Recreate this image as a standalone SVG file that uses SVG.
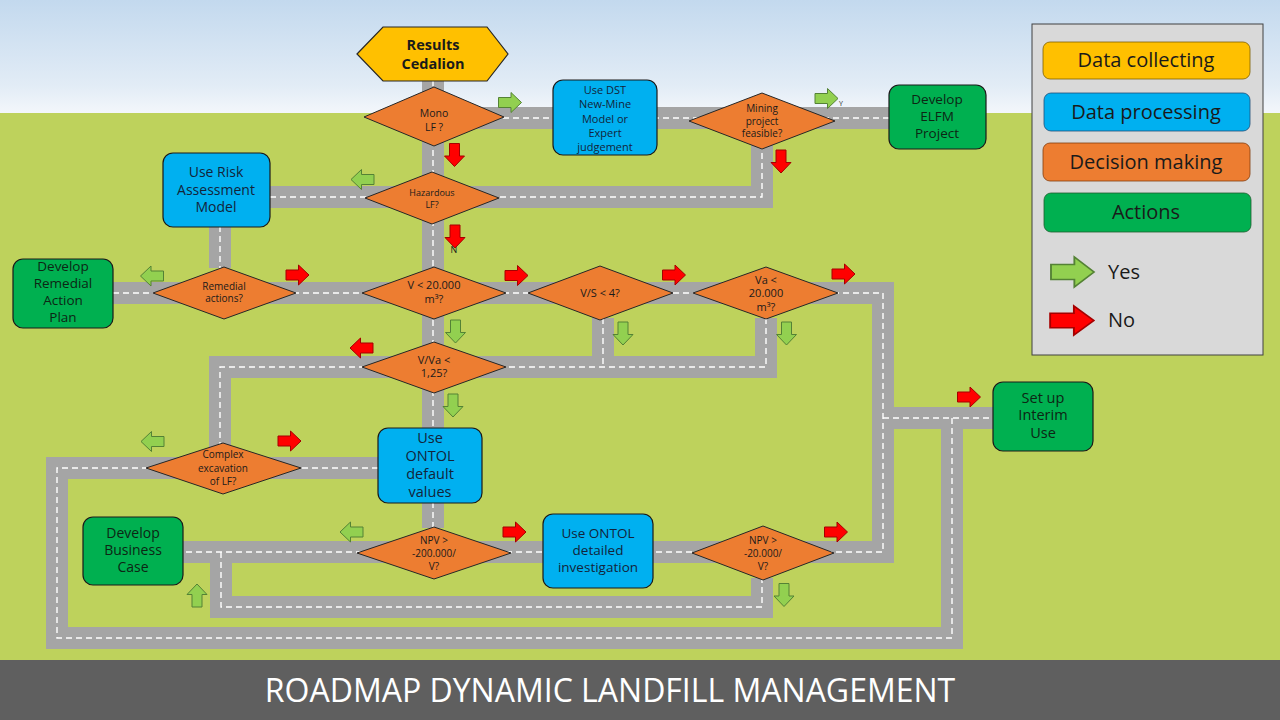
<svg xmlns="http://www.w3.org/2000/svg" xmlns:xlink="http://www.w3.org/1999/xlink" width="1280" height="720" viewBox="0 0 1280 720">
<defs>
<linearGradient id="sky" x1="0" y1="0" x2="0" y2="1">
<stop offset="0" stop-color="#c3d9ee"/>
<stop offset="0.75" stop-color="#e2ecf6"/>
<stop offset="1" stop-color="#f4f7fb"/>
</linearGradient>
<path id="arr" d="M-11.5,-5 H1 V-10 L11.5,0 L1,10 V5 H-11.5 Z"/>
</defs>
<style>
.road{fill:none;stroke:#a5a5a5;stroke-width:22;stroke-linejoin:miter;stroke-linecap:butt}
.lane{fill:none;stroke:#ffffff;stroke-width:1.4;stroke-dasharray:6 4}
.dec{fill:#ed7d31;stroke:#262626;stroke-width:1}
.proc{fill:#00b0f0;stroke:#1a1a1a;stroke-width:1.2}
.act{fill:#00b050;stroke:#1a1a1a;stroke-width:1.2}
.start{fill:#ffc000;stroke:#262626;stroke-width:1.2}
.t{font-family:"Open Sans","Liberation Sans",sans-serif;text-anchor:middle;fill:#1a1a1a}
.tb{fill:#13243a}
.tg{fill:#0d2614}
.yes{fill:#92d050;stroke:#548235;stroke-width:1}
.no{fill:#ff0000;stroke:#a50000;stroke-width:1}
</style>
<rect x="0" y="0" width="1280" height="114" fill="url(#sky)"/>
<rect x="0" y="113" width="1280" height="548" fill="#bed25c"/>
<rect x="0" y="660" width="1280" height="60" fill="#5f5f5f"/>
<text x="610" y="702" font-family="'Open Sans','Liberation Sans',sans-serif" font-size="32" fill="#ffffff" text-anchor="middle">ROADMAP DYNAMIC LANDFILL MANAGEMENT</text>

<g id="connectors">
<g id="roads">
<path class="road" d="M433,80 V428"/>
<path class="road" d="M433,502 V528"/>
<path class="road" d="M433,118 H889"/>
<path class="road" d="M270,197 H762 V140"/>
<path class="road" d="M220,226 V268"/>
<path class="road" d="M113,293 H883 V552 H183"/>
<path class="road" d="M883,418 H993"/>
<path class="road" d="M952,418 V638 H57 V468 H378"/>
<path class="road" d="M220,468 V367 H766 V318"/>
<path class="road" d="M603,318 V367"/>
<path class="road" d="M221,552 V607 H762 V578"/>
</g>
<g id="lanes">
<path class="lane" d="M433,80 V428"/>
<path class="lane" d="M433,502 V528"/>
<path class="lane" d="M433,118 H889"/>
<path class="lane" d="M270,197 H762 V140"/>
<path class="lane" d="M220,226 V268"/>
<path class="lane" d="M113,293 H883 V552 H183"/>
<path class="lane" d="M883,418 H993"/>
<path class="lane" d="M952,418 V638 H57 V468 H378"/>
<path class="lane" d="M220,468 V367 H766 V318"/>
<path class="lane" d="M603,318 V367"/>
<path class="lane" d="M221,552 V607 H762 V578"/>
</g>
</g>

<g id="n-results">
<polygon class="start" points="357,54 383,27 487,27 508,54 487,81 383,81"/>
<text class="t" x="433" y="50" font-size="14.5" font-weight="bold">Results</text>
<text class="t" x="433" y="69" font-size="14.5" font-weight="bold">Cedalion</text>
</g>
<g id="n-mono">
<polygon class="dec" points="364,117 434,87 504,117 434,146"/>
<text class="t" x="434" y="117" font-size="10.5">Mono</text>
<text class="t" x="434" y="131" font-size="10.5">LF ?</text>
</g>
<g id="n-dst">
<rect class="proc" x="553" y="80" width="104" height="75" rx="10"/>
<text class="t tb" x="605" y="94" font-size="11">Use DST</text>
<text class="t tb" x="605" y="108" font-size="11">New-Mine</text>
<text class="t tb" x="605" y="122.5" font-size="11">Model or</text>
<text class="t tb" x="605" y="137" font-size="11">Expert</text>
<text class="t tb" x="605" y="151" font-size="11">judgement</text>
</g>
<g id="n-mining">
<polygon class="dec" points="689,121 762,93 835,121 762,149"/>
<text class="t" x="762" y="112" font-size="10">Mining</text>
<text class="t" x="762" y="124.5" font-size="10">project</text>
<text class="t" x="762" y="137" font-size="10">feasible?</text>
</g>
<g id="n-elfm">
<rect class="act" x="889" y="85" width="97" height="64" rx="10"/>
<text class="t tg" x="937" y="104" font-size="13.5">Develop</text>
<text class="t tg" x="937" y="121" font-size="13.5">ELFM</text>
<text class="t tg" x="937" y="138" font-size="13.5">Project</text>
</g>
<g id="n-hazard">
<polygon class="dec" points="365,198 432,172 499,198 432,224"/>
<text class="t" x="432" y="196" font-size="9">Hazardous</text>
<text class="t" x="432" y="207.5" font-size="9">LF?</text>
</g>
<g id="n-risk">
<rect class="proc" x="163" y="153" width="107" height="74" rx="10"/>
<text class="t tb" x="216" y="177" font-size="14">Use Risk</text>
<text class="t tb" x="216" y="194.5" font-size="14">Assessment</text>
<text class="t tb" x="216" y="212" font-size="14">Model</text>
</g>
<g id="n-remplan">
<rect class="act" x="13" y="259" width="100" height="69" rx="10"/>
<text class="t tg" x="63" y="271" font-size="13.5">Develop</text>
<text class="t tg" x="63" y="288" font-size="13.5">Remedial</text>
<text class="t tg" x="63" y="305" font-size="13.5">Action</text>
<text class="t tg" x="63" y="322" font-size="13.5">Plan</text>
</g>
<g id="n-remedial">
<polygon class="dec" points="153,293 224,267 296,293 224,319"/>
<text class="t" x="224" y="289.5" font-size="10">Remedial</text>
<text class="t" x="224" y="302" font-size="10">actions?</text>
</g>
<g id="n-v20">
<polygon class="dec" points="362,293 434,267 506,293 434,319"/>
<text class="t" x="434" y="289" font-size="11">V &lt; 20.000</text>
<text class="t" x="434" y="302.5" font-size="11">m³?</text>
</g>
<g id="n-vs">
<polygon class="dec" points="528,293 600,266 673,293 600,320"/>
<text class="t" x="600" y="296.5" font-size="11">V/S &lt; 4?</text>
</g>
<g id="n-va">
<polygon class="dec" points="693,293 766,267 838,293 766,319"/>
<text class="t" x="766" y="283.5" font-size="11">Va &lt;</text>
<text class="t" x="766" y="297" font-size="11">20.000</text>
<text class="t" x="766" y="310.5" font-size="11">m³?</text>
</g>
<g id="n-vva">
<polygon class="dec" points="362,367 434,342 506,367 434,393"/>
<text class="t" x="434" y="363.5" font-size="11">V/Va &lt;</text>
<text class="t" x="434" y="377" font-size="11">1,25?</text>
</g>
<g id="n-ontoldef">
<rect class="proc" x="378" y="428" width="104" height="75" rx="10"/>
<text class="t tb" x="430" y="442.5" font-size="14.5">Use</text>
<text class="t tb" x="430" y="460.5" font-size="14.5">ONTOL</text>
<text class="t tb" x="430" y="478.5" font-size="14.5">default</text>
<text class="t tb" x="430" y="496.5" font-size="14.5">values</text>
</g>
<g id="n-complex">
<polygon class="dec" points="146,468 223,443 301,468 223,494"/>
<text class="t" x="223" y="458" font-size="10">Complex</text>
<text class="t" x="223" y="471.5" font-size="10">excavation</text>
<text class="t" x="223" y="484.5" font-size="10">of LF?</text>
</g>
<g id="n-business">
<rect class="act" x="83" y="517" width="100" height="68" rx="10"/>
<text class="t tg" x="133" y="537.5" font-size="14">Develop</text>
<text class="t tg" x="133" y="554.5" font-size="14">Business</text>
<text class="t tg" x="133" y="571.5" font-size="14">Case</text>
</g>
<g id="n-npv1">
<polygon class="dec" points="357,553 434,527 511,553 434,579"/>
<text class="t" x="434" y="543.5" font-size="10">NPV &gt;</text>
<text class="t" x="434" y="556.5" font-size="10">-200.000/</text>
<text class="t" x="434" y="569.5" font-size="10">V?</text>
</g>
<g id="n-ontoldet">
<rect class="proc" x="543" y="514" width="110" height="74" rx="10"/>
<text class="t tb" x="598" y="538" font-size="13.5">Use ONTOL</text>
<text class="t tb" x="598" y="555" font-size="13.5">detailed</text>
<text class="t tb" x="598" y="572" font-size="13.5">investigation</text>
</g>
<g id="n-npv2">
<polygon class="dec" points="692,553 763,526 834,553 763,580"/>
<text class="t" x="763" y="543.5" font-size="10">NPV &gt;</text>
<text class="t" x="763" y="556.5" font-size="10">-20.000/</text>
<text class="t" x="763" y="569.5" font-size="10">V?</text>
</g>
<g id="n-interim">
<rect class="act" x="993" y="382" width="100" height="69" rx="10"/>
<text class="t tg" x="1043" y="402.5" font-size="14.5">Set up</text>
<text class="t tg" x="1043" y="420" font-size="14.5">Interim</text>
<text class="t tg" x="1043" y="437.5" font-size="14.5">Use</text>
</g>

<g id="arrows">
<text class="t" x="841" y="106" font-size="7">Y</text>
<text class="t" x="454" y="252.5" font-size="9">N</text>
<use xlink:href="#arr" class="yes" transform="translate(510,102.5)"/>
<use xlink:href="#arr" class="yes" transform="translate(826.5,98.5)"/>
<use xlink:href="#arr" class="no" transform="translate(454.5,155) rotate(90)"/>
<use xlink:href="#arr" class="no" transform="translate(781,161.5) rotate(90)"/>
<use xlink:href="#arr" class="yes" transform="translate(362.5,179.5) rotate(180)"/>
<use xlink:href="#arr" class="no" transform="translate(455,236.5) rotate(90)"/>
<use xlink:href="#arr" class="yes" transform="translate(152,276) rotate(180)"/>
<use xlink:href="#arr" class="no" transform="translate(297.5,275)"/>
<use xlink:href="#arr" class="no" transform="translate(516.5,275.5)"/>
<use xlink:href="#arr" class="no" transform="translate(674,275)"/>
<use xlink:href="#arr" class="no" transform="translate(843.5,274)"/>
<use xlink:href="#arr" class="yes" transform="translate(455.5,331.5) rotate(90)"/>
<use xlink:href="#arr" class="yes" transform="translate(623,333.5) rotate(90)"/>
<use xlink:href="#arr" class="yes" transform="translate(786.5,333.5) rotate(90)"/>
<use xlink:href="#arr" class="no" transform="translate(361.5,348) rotate(180)"/>
<use xlink:href="#arr" class="yes" transform="translate(453,405.5) rotate(90)"/>
<use xlink:href="#arr" class="yes" transform="translate(152.5,441.5) rotate(180)"/>
<use xlink:href="#arr" class="no" transform="translate(289.5,441)"/>
<use xlink:href="#arr" class="no" transform="translate(969,397)"/>
<use xlink:href="#arr" class="yes" transform="translate(197,595.5) rotate(-90)"/>
<use xlink:href="#arr" class="yes" transform="translate(351.5,532) rotate(180)"/>
<use xlink:href="#arr" class="no" transform="translate(514.5,532)"/>
<use xlink:href="#arr" class="no" transform="translate(836,532)"/>
<use xlink:href="#arr" class="yes" transform="translate(784,595) rotate(90)"/>
</g>

<g id="legend">
<rect x="1032" y="24" width="231" height="331" fill="#d9d9d9" stroke="#404040" stroke-width="1"/>
<rect x="1043" y="42" width="207" height="37" rx="7" fill="#ffc000" stroke="#7f6000" stroke-width="0.8"/>
<text class="t" x="1146" y="67" font-size="20">Data collecting</text>
<rect x="1044" y="93" width="206" height="38" rx="7" fill="#00b0f0" stroke="#1f4e79" stroke-width="0.8"/>
<text class="t" x="1146" y="119" font-size="20">Data processing</text>
<rect x="1043" y="143" width="207" height="38" rx="7" fill="#ed7d31" stroke="#843c0c" stroke-width="0.8"/>
<text class="t" x="1146" y="169" font-size="20">Decision making</text>
<rect x="1044" y="193" width="207" height="39" rx="7" fill="#00b050" stroke="#1e5e2e" stroke-width="0.8"/>
<text class="t" x="1146" y="219" font-size="20">Actions</text>
<use xlink:href="#arr" class="yes" transform="translate(1072.5,272) scale(1.87,1.5)" stroke-width="0.6"/>
<text x="1108" y="279" font-family="'Open Sans','Liberation Sans',sans-serif" font-size="20" fill="#1a1a1a">Yes</text>
<use xlink:href="#arr" class="no" transform="translate(1072,320.5) scale(1.9,1.45)" stroke-width="0.6"/>
<text x="1108" y="327" font-family="'Open Sans','Liberation Sans',sans-serif" font-size="20" fill="#1a1a1a">No</text>
</g>
</svg>
